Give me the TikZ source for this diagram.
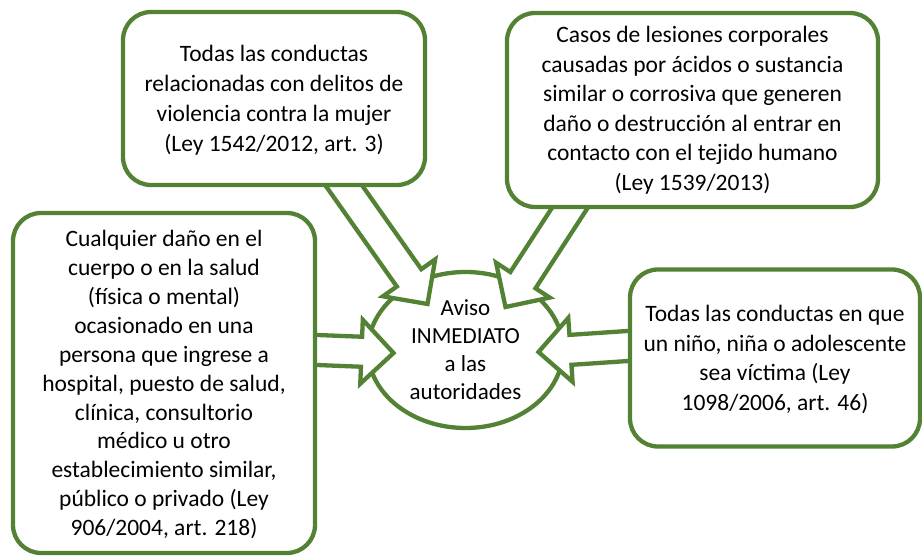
\documentclass[tikz,border=0pt]{standalone}
\usepackage{fontspec}
\setmainfont{Carlito}
\usetikzlibrary{calc,shapes.geometric}
\definecolor{leafgreen}{RGB}{84,130,53}
\pgfdeclarelayer{ovallayer}
\pgfdeclarelayer{arrowlayer}
\pgfsetlayers{ovallayer,arrowlayer,main}
\tikzset{
    casebox/.style={draw=leafgreen, line width=4.3pt, fill=white, rounded corners=28pt, align=center, inner sep=0pt},
    avisobox/.style={draw=leafgreen, line width=4.3pt, fill=white, ellipse, align=center, inner sep=0pt, minimum width=195pt, minimum height=156pt},
    hollowarrow/.style={draw=leafgreen, line width=4.3pt, fill=white, line join=miter}
}
\newcommand\blockarrow[2]{%
    \coordinate (hb) at ($(#2)!32pt!(#1)$);
    \coordinate (tl) at ($(#1)!-12pt!(#2)$);
    \draw[hollowarrow] ($(tl)!15pt!90:(#2)$) -- ($(hb)!15pt!90:(#2)$) -- ($(hb)!32pt!90:(#2)$) -- (#2) -- ($(hb)!32pt!-90:(#2)$) -- ($(hb)!15pt!-90:(#2)$) -- ($(tl)!15pt!-90:(#2)$);
}
\begin{document}
\begin{tikzpicture}[x=1pt, y=-1pt, font=\fontsize{23.5}{29.5}\selectfont]
                \useasboundingbox (0,0) rectangle (922,556);
                \begin{pgfonlayer}{ovallayer}
                \node[avisobox, font=\fontsize{23}{28}\selectfont] (aviso) at (465.5,350) {Aviso\\INMEDIATO\\a las\\autoridades};
                \end{pgfonlayer}
                \node[casebox, minimum width=302pt, minimum height=173pt, text depth=-18pt, font=\fontsize{23.5}{30}\selectfont] (mujer) at (274,98.5) {Todas las conductas\\relacionadas con delitos de\\violencia contra la mujer\\(Ley 1542/2012, art. 3)};
                \node[casebox, minimum width=371pt, minimum height=194pt] (acidos) at (692.5,110) {Casos de lesiones corporales\\causadas por ácidos o sustancia\\similar o corrosiva que generen\\daño o destrucción al entrar en\\contacto con el tejido humano\\(Ley 1539/2013)};
                \node[casebox, minimum width=302pt, minimum height=340pt, text depth=-4pt, font=\fontsize{23.5}{28.9}\selectfont] (dano) at (164,383) {Cualquier daño en el\\cuerpo o en la salud\\(física o mental)\\ocasionado en una\\persona que ingrese a\\hospital, puesto de salud,\\clínica, consultorio\\médico u otro\\establecimiento similar,\\público o privado (Ley\\906/2004, art. 218)};
                \node[casebox, minimum width=290pt, minimum height=177pt, text depth=-4pt] (nino) at (775,358) {Todas las conductas en que\\un niño, niña o adolescente\\sea víctima (Ley\\1098/2006, art. 46)};
                \coordinate (mujertail) at ([xshift=71pt]mujer.south);
                \coordinate (mujertip) at ($(aviso.center)+(-38,-46)$);
                \coordinate (acidostail) at ([xshift=-123.5pt]acidos.south);
                \coordinate (acidostip) at ($(aviso.center)+(40,-43)$);
                \coordinate (danotail) at ([yshift=33pt]dano.east);
                \coordinate (danotip) at ($(aviso.center)+(-72,3)$);
                \coordinate (ninotail) at ([yshift=12pt]nino.west);
                \coordinate (ninotip) at ($(aviso.center)+(73,2)$);
                \begin{pgfonlayer}{arrowlayer}
                \blockarrow{mujertail}{mujertip}
                \blockarrow{acidostail}{acidostip}
                \blockarrow{danotail}{danotip}
                \blockarrow{ninotail}{ninotip}
                \end{pgfonlayer}
\end{tikzpicture}
\end{document}
